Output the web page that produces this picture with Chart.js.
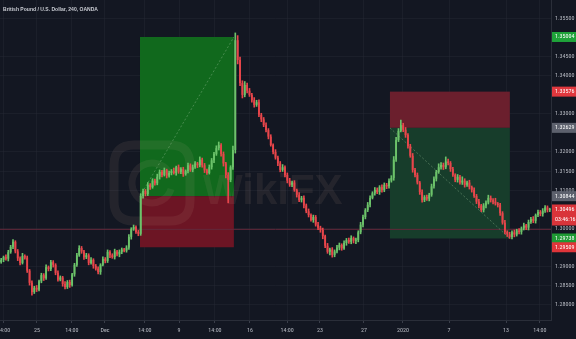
<!DOCTYPE html>
<html><head><meta charset="utf-8">
<script src="https://cdn.jsdelivr.net/npm/chart.js@4.4.1/dist/chart.umd.min.js"></script>
<style>html,body{margin:0;padding:0;background:#131722;overflow:hidden}#wrap{width:576px;height:339px}</style>
</head><body><div id="wrap"><canvas id="c" width="576" height="339"></canvas></div>
<script>
const title = 'British Pound / U.S. Dollar, 240, OANDA';
const firstOpen = 1.2912;
const closes = [
1.2918,1.2925,1.2921,1.2938,1.2952,1.2965,1.2940,1.2922,1.2910,1.2928,1.2924,1.2890,1.2858,1.2834,1.2845,1.2840,1.2862,1.2878,1.2870,1.2899,
1.2894,1.2912,1.2905,1.2884,1.2866,1.2872,1.2855,1.2847,1.2860,1.2852,1.2880,1.2905,1.2930,1.2949,1.2940,1.2925,1.2930,1.2910,1.2918,1.2902,
1.2895,1.2886,1.2905,1.2920,1.2915,1.2939,1.2930,1.2925,1.2940,1.2932,1.2939,1.2945,1.2942,1.2950,1.2978,1.2998,1.3004,1.2991,1.2986,1.3085,
1.3098,1.3090,1.3114,1.3108,1.3125,1.3118,1.3135,1.3148,1.3140,1.3152,1.3138,1.3145,1.3150,1.3145,1.3160,1.3148,1.3155,1.3142,1.3150,1.3165,
1.3153,1.3160,1.3170,1.3165,1.3180,1.3165,1.3152,1.3145,1.3160,1.3178,1.3195,1.3210,1.3218,1.3195,1.3170,1.3140,1.3127,1.3160,1.3205,1.3492,
1.3440,1.3380,1.3349,1.3375,1.3360,1.3349,1.3335,1.3323,1.3330,1.3297,1.3285,1.3270,1.3257,1.3240,1.3218,1.3200,1.3185,1.3170,1.3153,1.3160,
1.3140,1.3125,1.3114,1.3120,1.3100,1.3088,1.3074,1.3080,1.3060,1.3045,1.3035,1.3022,1.3030,1.3010,1.3002,1.2996,1.2980,1.2955,1.2939,1.2945,
1.2931,1.2940,1.2950,1.2957,1.2948,1.2962,1.2970,1.2965,1.2975,1.2968,1.2970,1.2990,1.3010,1.3030,1.3048,1.3062,1.3080,1.3092,1.3101,1.3095,
1.3108,1.3100,1.3114,1.3110,1.3125,1.3132,1.3180,1.3231,1.3255,1.3270,1.3258,1.3244,1.3215,1.3190,1.3153,1.3140,1.3120,1.3095,1.3074,1.3082,
1.3078,1.3088,1.3110,1.3130,1.3148,1.3160,1.3166,1.3160,1.3175,1.3171,1.3155,1.3140,1.3127,1.3135,1.3120,1.3125,1.3114,1.3120,1.3108,1.3101,
1.3085,1.3070,1.3060,1.3048,1.3060,1.3068,1.3080,1.3074,1.3070,1.3065,1.3061,1.3040,1.3015,1.2991,1.2985,1.2978,1.2990,1.2984,1.2995,1.2991,
1.3000,1.3008,1.3002,1.3017,1.3025,1.3020,1.3035,1.3043,1.3038,1.3046,1.3055,1.3048,1.3050
];
const wickHi = [
4,3,6,5,4,6,3,5,4,7,3,4,3,5,4,6,3,5,4,6,
3,5,4,3,5,4,3,6,4,5,3,4,5,6,4,3,5,4,6,3,
4,5,3,6,4,5,3,4,6,3,5,4,3,5,6,4,5,3,4,6,
5,4,6,3,5,4,7,5,4,6,3,5,4,8,3,6,4,5,3,6,
4,6,5,3,7,4,5,3,6,5,4,6,8,4,5,3,6,4,10,19,
12,8,6,9,5,6,4,7,5,6,4,5,6,4,5,3,6,4,5,7,
4,5,6,4,5,3,6,4,5,4,6,3,5,4,6,4,5,3,6,4,
5,4,6,5,3,6,4,5,6,3,5,4,6,5,4,6,5,4,6,5,
4,6,5,4,5,6,8,7,6,13,5,6,4,5,6,4,5,3,6,4,
5,4,6,5,4,9,6,5,12,6,4,5,3,6,4,10,5,4,6,3,
5,4,6,3,5,4,7,5,4,9,3,5,4,6,3,5,4,6,3,5,
4,6,3,5,4,6,3,5,4,6,5,4,3
];
const wickLo = [
3,5,4,6,3,5,4,6,5,3,4,5,6,8,4,5,3,4,6,3,
5,4,6,5,4,3,6,5,4,6,3,5,4,3,5,6,4,5,3,6,
4,5,6,3,5,4,6,3,5,4,6,5,3,4,5,6,3,4,5,4,
6,5,4,6,3,5,4,6,5,3,6,4,5,3,6,4,5,6,3,5,
4,5,3,6,4,5,6,4,3,5,6,4,5,6,7,8,60,5,6,8,
10,7,8,5,6,4,5,6,4,5,6,4,5,6,3,5,4,6,5,4,
5,6,4,5,3,6,4,5,6,4,5,3,6,4,5,6,7,5,4,8,
6,5,4,6,5,3,6,4,5,6,8,5,4,6,5,4,6,3,5,4,
6,5,4,6,5,4,6,5,4,3,5,6,5,4,6,5,4,6,5,4,
5,6,4,5,6,4,5,6,4,5,6,4,5,6,4,5,6,4,5,6,
4,5,6,4,5,6,4,5,6,4,5,6,4,5,6,4,5,6,4,5,
6,4,5,6,4,5,6,4,5,6,4,5,4
];
const xTickIdx = [1, 15.1, 29.9, 43.9, 60.8, 75.2, 90.4, 105.2, 120.9, 134.8, 153.4, 169.9, 189.4, 213.5, 227.8];
const xTickLabels = ['14:00','25','14:00','Dec','14:00','9','14:00','16','14:00','23','27','2020','7','13','14:00'];
const yTickValues = [1.355, 1.345, 1.34, 1.33, 1.32, 1.315, 1.31, 1.30, 1.29, 1.285, 1.28];
const tagPrices = [1.35004, 1.33576, 1.32629, 1.30844, 1.30496, 1.29738, 1.29509];
const tagTexts = ['1.35004', '1.33576', '1.32629', '1.30844', '1.30496', '1.29738', '1.29509'];
const tagSubTexts = ['', '', '', '', '03:46:16', '', ''];
const longPos = { start: 58.7, end: 98.4, entry: 1.30844, target: 1.35004, stop: 1.29509 };
const shortPos = { start: 164.4, end: 215.1, entry: 1.32629, target: 1.29738, stop: 1.33576 };
const hLinePrice = 1.2999;

const N = closes.length;
const opens = closes.map((c, i) => i === 0 ? firstOpen : closes[i - 1]);
const highs = closes.map((c, i) => Math.max(opens[i], c) + wickHi[i] * 1e-4);
const lows = closes.map((c, i) => Math.min(opens[i], c) - wickLo[i] * 1e-4);
const UP = '#6cc36a', DOWN = '#e8464b';
const colors = closes.map((c, i) => c >= opens[i] ? UP : DOWN);
const labels = closes.map((c, i) => String(i));

const tagColors = ['#1fa33a', '#e0383e', '#5d616d', '#5d616d', '#d9343a', '#1f9a34', '#e0353a'];
const FONT_AX = "'Liberation Sans Narrow','Roboto Condensed','Liberation Sans',sans-serif";

const overlay = {
  id: 'overlay',
  beforeDatasetsDraw(chart) {
    const ctx = chart.ctx, xs = chart.scales.xt, ys = chart.scales.y, a = chart.chartArea;
    ctx.save();
    ctx.beginPath(); ctx.rect(a.left, a.top, a.right - a.left, a.bottom - a.top); ctx.clip();
    const box = (s, e, p1, p2, col) => {
      const x1 = xs.getPixelForValue(s), x2 = xs.getPixelForValue(e);
      const y1 = ys.getPixelForValue(p1), y2 = ys.getPixelForValue(p2);
      ctx.fillStyle = col;
      ctx.fillRect(x1, Math.min(y1, y2), x2 - x1, Math.abs(y2 - y1));
    };
    box(longPos.start, longPos.end, longPos.entry, longPos.target, '#11691d');
    box(longPos.start, longPos.end, longPos.entry, longPos.stop, '#6c1524');
    box(shortPos.start, shortPos.end, shortPos.entry, shortPos.stop, '#6b1f2d');
    box(shortPos.start, shortPos.end, shortPos.entry, shortPos.target, '#173d2b');
    const hy = ys.getPixelForValue(hLinePrice);
    ctx.strokeStyle = '#62293a'; ctx.lineWidth = 1;
    ctx.beginPath(); ctx.moveTo(a.left, hy + 0.5); ctx.lineTo(a.right, hy + 0.5); ctx.stroke();
    ctx.setLineDash([2, 2]);
    ctx.strokeStyle = 'rgba(150,190,150,0.4)';
    ctx.beginPath();
    ctx.moveTo(xs.getPixelForValue(longPos.start), ys.getPixelForValue(longPos.entry));
    ctx.lineTo(xs.getPixelForValue(longPos.end), ys.getPixelForValue(longPos.target));
    ctx.moveTo(xs.getPixelForValue(shortPos.start), ys.getPixelForValue(shortPos.entry));
    ctx.lineTo(xs.getPixelForValue(shortPos.end), ys.getPixelForValue(shortPos.target));
    ctx.stroke();
    ctx.setLineDash([]);
    ctx.globalAlpha = 0.09;
    ctx.strokeStyle = '#d8b0a0'; ctx.fillStyle = '#d8b0a0';
    ctx.lineWidth = 9;
    const rx = 114, ry = 145, rw = 76, rh = 76, r = 20;
    ctx.beginPath();
    ctx.moveTo(rx + r, ry); ctx.lineTo(rx + rw - r, ry); ctx.quadraticCurveTo(rx + rw, ry, rx + rw, ry + r);
    ctx.lineTo(rx + rw, ry + rh - r); ctx.quadraticCurveTo(rx + rw, ry + rh, rx + rw - r, ry + rh);
    ctx.lineTo(rx + r, ry + rh); ctx.quadraticCurveTo(rx, ry + rh, rx, ry + rh - r);
    ctx.lineTo(rx, ry + r); ctx.quadraticCurveTo(rx, ry, rx + r, ry); ctx.stroke();
    ctx.lineWidth = 7;
    ctx.beginPath(); ctx.arc(rx + rw / 2, ry + rh / 2, 20, 0.3, Math.PI * 1.8); ctx.stroke();
    ctx.font = "bold 42px 'Liberation Sans',sans-serif";
    ctx.textBaseline = 'alphabetic';
    ctx.fillText('WikiFX', 203, 204);
    ctx.restore();
  },
  afterDraw(chart) {
    const ctx = chart.ctx, ys = chart.scales.y, a = chart.chartArea;
    ctx.save();
    ctx.font = "bold 6px 'Liberation Sans',sans-serif";
    ctx.fillStyle = '#c9ccd3';
    ctx.textBaseline = 'middle';
    const tw = ctx.measureText(title).width;
    ctx.save(); ctx.translate(3, 9); ctx.scale(95 / tw, 1); ctx.fillText(title, 0, 0); ctx.restore();
    ctx.font = "6px " + FONT_AX;
    tagPrices.forEach((p, i) => {
      const y = ys.getPixelForValue(p);
      const hasSub = tagSubTexts[i] !== '';
      const top = y - 5, h = hasSub ? 21 : 10;
      ctx.fillStyle = tagColors[i];
      ctx.fillRect(a.right + 1, top, chart.width - a.right - 1, h);
      ctx.fillStyle = '#ffffff';
      ctx.textAlign = 'left'; ctx.textBaseline = 'middle';
      ctx.fillText(tagTexts[i], a.right + 4, y);
      if (hasSub) ctx.fillText(tagSubTexts[i], a.right + 4, y + 10);
    });
    ctx.restore();
  }
};

new Chart(document.getElementById('c'), {
  type: 'bar',
  data: {
    labels: labels,
    datasets: [
      { label: 'wick', data: lows.map((l, i) => [l, highs[i]]), backgroundColor: colors, barThickness: 1, grouped: false, order: 2 },
      { label: 'body', data: closes.map((c, i) => [Math.min(opens[i], c), Math.max(opens[i], c)]), backgroundColor: colors, barPercentage: 0.78, categoryPercentage: 1, grouped: false, minBarLength: 1, order: 1 }
    ]
  },
  options: {
    responsive: false, animation: false, devicePixelRatio: 1,
    layout: { padding: 0 },
    plugins: { legend: { display: false }, tooltip: { enabled: false } },
    scales: {
      x: { display: false, offset: true },
      xt: {
        type: 'linear', position: 'bottom', min: -0.5, max: N - 0.5, offset: false,
        afterBuildTicks: s => { s.ticks = xTickIdx.map(v => ({ value: v })); },
        afterFit: s => { s.height = 19; s.paddingLeft = 0; s.paddingRight = 0; },
        ticks: {
          autoSkip: false, maxRotation: 0, minRotation: 0, padding: 4,
          color: '#b8bbc3', font: { size: 6, family: FONT_AX },
          callback: (v, i) => xTickLabels[i]
        },
        grid: { offset: false, color: 'rgba(42,46,57,0.35)', tickLength: 3, tickColor: '#3a3e4a' },
        border: { color: '#2a2e39' }
      },
      y: {
        position: 'right', min: 1.276080, max: 1.359704,
        afterBuildTicks: s => { s.ticks = yTickValues.map(v => ({ value: v })); },
        afterFit: s => { s.width = 25; s.paddingTop = 0; s.paddingBottom = 0; },
        ticks: {
          padding: 4, color: '#b8bbc3', font: { size: 6, family: FONT_AX },
          callback: v => v.toFixed(5)
        },
        grid: { color: 'rgba(42,46,57,0.35)', drawTicks: false },
        border: { color: '#2a2e39' }
      }
    }
  },
  plugins: [overlay]
});
</script>
</body></html>
